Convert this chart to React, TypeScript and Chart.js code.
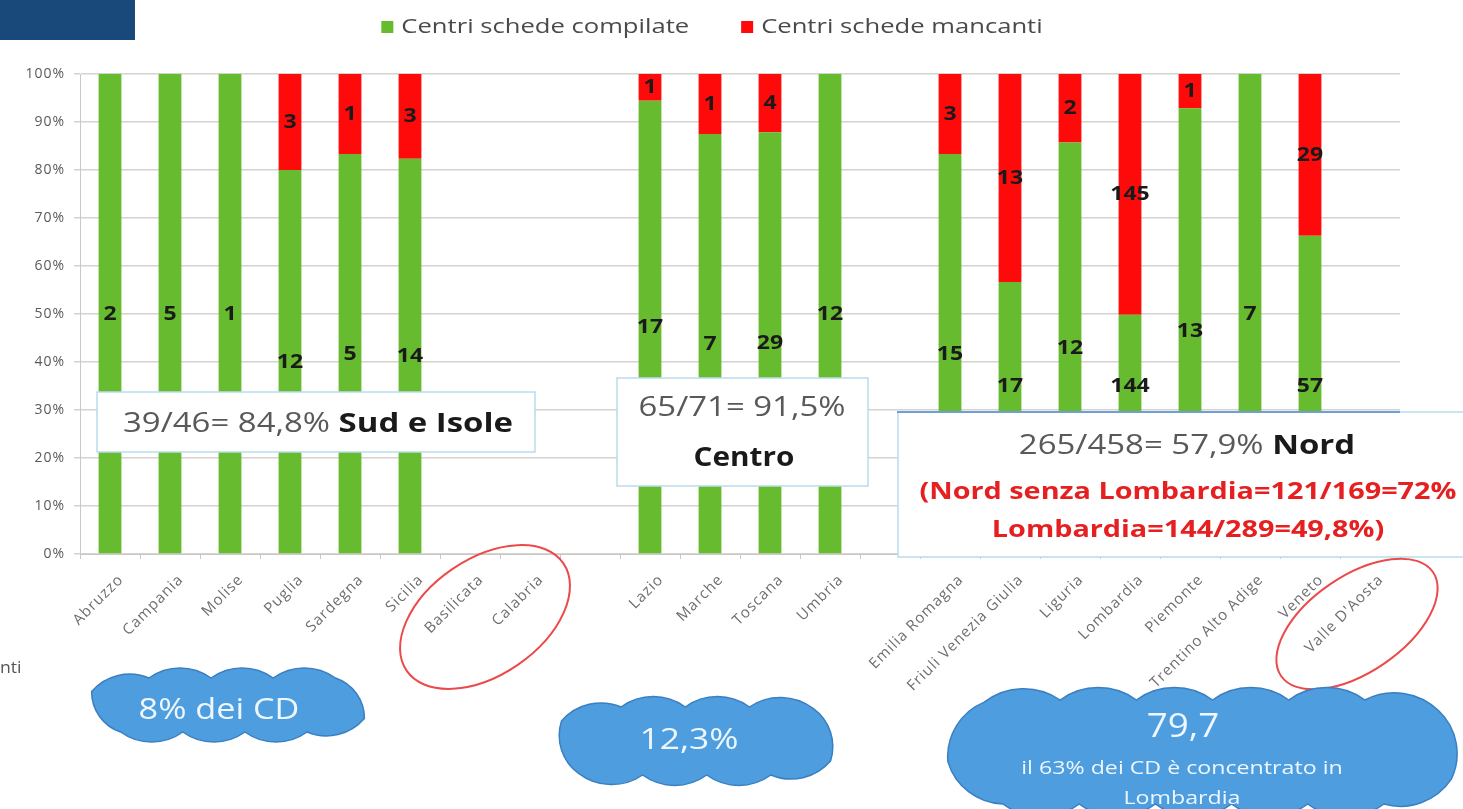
import React, { useEffect, useRef } from "react";
import { Chart, registerables } from "chart.js";

Chart.register(...registerables);

const categories = [
  "Abruzzo", "Campania", "Molise", "Puglia", "Sardegna", "Sicilia", "Basilicata", "Calabria",
  "",
  "Lazio", "Marche", "Toscana", "Umbria",
  "",
  "Emilia Romagna", "Friuli Venezia Giulia", "Liguria", "Lombardia", "Piemonte",
  "Trentino Alto Adige", "Veneto", "Valle D'Aosta",
];
const compilate = [2, 5, 1, 12, 5, 14, 0, 0, 0, 17, 7, 29, 12, 0, 15, 17, 12, 144, 13, 7, 57, 0];
const mancanti = [0, 0, 0, 3, 1, 3, 0, 0, 0, 1, 1, 4, 0, 0, 3, 13, 2, 145, 1, 0, 29, 0];
const seriesNames = ["Centri schede compilate", "Centri schede mancanti"];
const seriesColors = ["#66bb2e", "#ff0a0a"];
const yTickValues = [0, 10, 20, 30, 40, 50, 60, 70, 80, 90, 100];

const totals = compilate.map((g, i) => g + mancanti[i]);
const pctCompilate = compilate.map((g, i) => (totals[i] ? (g / totals[i]) * 100 : 0));
const pctMancanti = mancanti.map((r, i) => (totals[i] ? (r / totals[i]) * 100 : 0));
const counts = [compilate, mancanti];
const pcts = [pctCompilate, pctMancanti];

const FONT = "'Open Sans', 'Liberation Sans', sans-serif";
const SX = 1.22;

function sText(
  ctx: CanvasRenderingContext2D,
  text: string,
  x: number,
  y: number,
  font: string,
  color: string,
  sx: number = SX,
  align: CanvasTextAlign = "center"
) {
  ctx.save();
  ctx.font = font;
  ctx.fillStyle = color;
  ctx.textAlign = align;
  ctx.textBaseline = "middle";
  ctx.translate(x, y);
  ctx.scale(sx, 1);
  ctx.fillText(text, 0, 0);
  ctx.restore();
}

// point on a stadium outline (clockwise on screen), s in [0, P)
function stadiumPoint(W: number, H: number, s: number): [number, number] {
  const top = 2 * W;
  const arc = Math.PI * H;
  if (s < top) return [-W + s, -H];
  s -= top;
  if (s < arc) {
    const a = -Math.PI / 2 + s / H;
    return [W + H * Math.cos(a), H * Math.sin(a)];
  }
  s -= arc;
  if (s < top) return [W - s, H];
  s -= top;
  const a = Math.PI / 2 + s / H;
  return [-W + H * Math.cos(a), H * Math.sin(a)];
}

function cloud(ctx: CanvasRenderingContext2D, cx: number, cy: number, W: number, H: number, n: number) {
  const P = 4 * W + 2 * Math.PI * H;
  const sweep = (72 * Math.PI) / 180;
  const pts: [number, number][] = [];
  const start = W * 0.3;
  for (let i = 0; i < n; i++) {
    const [x, y] = stadiumPoint(W, H, (start + (P * i) / n) % P);
    pts.push([cx + x, cy + y]);
  }
  ctx.beginPath();
  for (let i = 0; i < n; i++) {
    const p1 = pts[i];
    const p2 = pts[(i + 1) % n];
    const dx = p2[0] - p1[0];
    const dy = p2[1] - p1[1];
    const L = Math.hypot(dx, dy);
    const ux = dx / L;
    const uy = dy / L;
    const R = L / 2 / Math.sin(sweep / 2);
    const d = R * Math.cos(sweep / 2);
    const mx = (p1[0] + p2[0]) / 2 - uy * d;
    const my = (p1[1] + p2[1]) / 2 + ux * d;
    const a1 = Math.atan2(p1[1] - my, p1[0] - mx);
    const a2 = Math.atan2(p2[1] - my, p2[0] - mx);
    if (i === 0) ctx.moveTo(p1[0], p1[1]);
    ctx.arc(mx, my, R, a1, a2, false);
  }
  ctx.closePath();
  ctx.fillStyle = "#4d9ddf";
  ctx.fill();
  ctx.strokeStyle = "#3a7fc1";
  ctx.lineWidth = 1.5;
  ctx.stroke();
}

function box(ctx: CanvasRenderingContext2D, x: number, y: number, w: number, h: number) {
  ctx.fillStyle = "#ffffff";
  ctx.fillRect(x, y, w, h);
  ctx.strokeStyle = "#b9dcee";
  ctx.lineWidth = 1.5;
  ctx.strokeRect(x, y, w, h);
}

function mixedLine(ctx: CanvasRenderingContext2D, cx: number, y: number, a: string, b: string, size: number) {
  ctx.font = `${size}px ${FONT}`;
  const wa = ctx.measureText(a).width * SX;
  ctx.font = `bold ${size}px ${FONT}`;
  const wb = ctx.measureText(b).width * SX;
  const x0 = cx - (wa + wb) / 2;
  sText(ctx, a, x0, y, `${size}px ${FONT}`, "#595959", SX, "left");
  sText(ctx, b, x0 + wa, y, `bold ${size}px ${FONT}`, "#1a1a1a", SX, "left");
}

function ellipse(ctx: CanvasRenderingContext2D, cx: number, cy: number, rx: number, ry: number, rot: number) {
  ctx.beginPath();
  ctx.ellipse(cx, cy, rx, ry, rot, 0, Math.PI * 2);
  ctx.strokeStyle = "#ec4a4a";
  ctx.lineWidth = 2;
  ctx.stroke();
}

const spacingPlugin = {
  id: "spacing",
  beforeUpdate(chart: any) {
    (chart.ctx as any).letterSpacing = "1px";
  },
  beforeDraw(chart: any) {
    (chart.ctx as any).letterSpacing = "1px";
  },
};

const overlayPlugin = {
  id: "overlays",
  afterDatasetsDraw(chart: any) {
    const ctx = chart.ctx as CanvasRenderingContext2D;
    const yS = chart.scales.y;
    ctx.save();
    (ctx as any).letterSpacing = "0px";
    for (let d = 0; d < 2; d++) {
      const meta = chart.getDatasetMeta(d);
      meta.data.forEach((bar: any, i: number) => {
        const c = counts[d][i];
        if (!c) return;
        const base = d === 0 ? 0 : pctCompilate[i];
        let mid = base + pcts[d][i] / 2;
        if (d === 0) mid = Math.max(mid, 35);
        sText(ctx, String(c), bar.x, yS.getPixelForValue(mid), `bold 20px ${FONT}`, "#1a1a1a", 1.15);
      });
    }
    ctx.restore();
  },
  afterDraw(chart: any) {
    const ctx = chart.ctx as CanvasRenderingContext2D;
    ctx.save();
    (ctx as any).letterSpacing = "0px";
    // top-left banner
    ctx.fillStyle = "#18497a";
    ctx.fillRect(0, 0, 135, 40);

    // legend
    const LS = 1.28;
    ctx.font = `20px ${FONT}`;
    const legendY = 27;
    const gap = 52;
    const items = seriesNames.map((n) => ({ n, w: ctx.measureText(n).width * LS + 20 }));
    const totalW = items.reduce((s, it) => s + it.w, 0) + gap;
    let lx = 712 - totalW / 2;
    items.forEach((it, k) => {
      ctx.fillStyle = seriesColors[k];
      ctx.fillRect(lx, legendY - 6, 12, 12);
      sText(ctx, it.n, lx + 20, legendY, `20px ${FONT}`, "#4a4a4a", LS, "left");
      lx += it.w + gap;
    });

    // boxes
    box(ctx, 97, 392, 438, 60);
    mixedLine(ctx, 318, 424, "39/46= 84,8% ", "Sud e Isole", 27);

    box(ctx, 617, 378, 251, 108);
    sText(ctx, "65/71= 91,5%", 742, 408, `27px ${FONT}`, "#595959");
    sText(ctx, "Centro", 744, 458, `bold 27px ${FONT}`, "#1a1a1a", 1.1);

    box(ctx, 898, 412, 580, 145);
    ctx.strokeStyle = "#6f9fd4";
    ctx.lineWidth = 2;
    ctx.beginPath();
    ctx.moveTo(897, 412);
    ctx.lineTo(1400, 412);
    ctx.stroke();
    mixedLine(ctx, 1187, 446, "265/458= 57,9% ", "Nord", 27);
    sText(ctx, "(Nord senza Lombardia=121/169=72%", 1188, 492, `bold 24px ${FONT}`, "#e62020", 1.2);
    sText(ctx, "Lombardia=144/289=49,8%)", 1188, 530, `bold 24px ${FONT}`, "#e62020", 1.2);

    // red ellipses
    ellipse(ctx, 485, 617, 95, 58, -0.6);
    ellipse(ctx, 1357, 624, 92, 48, -0.6);

    // clouds
    cloud(ctx, 228, 705, 113, 27, 10);
    cloud(ctx, 696, 741, 107, 34, 10);
    cloud(ctx, 1203, 752, 204, 52, 15);

    const cc = "#eef7ff";
    sText(ctx, "8% dei CD", 219, 711, `29px ${FONT}`, cc, 1.18);
    sText(ctx, "12,3%", 689, 741, `29px ${FONT}`, cc, 1.22);
    sText(ctx, "79,7", 1183, 728, `32px ${FONT}`, cc, 1.15);
    sText(ctx, "il 63% dei CD è concentrato in", 1182, 769, `19px ${FONT}`, cc, 1.22);
    sText(ctx, "Lombardia", 1182, 799, `19px ${FONT}`, cc, 1.22);

    // cut-off side text
    sText(ctx, "nti", 0, 668, `16px ${FONT}`, "#555555", 1.1, "left");
    ctx.restore();
  },
};

export default function App() {
  const ref = useRef<HTMLCanvasElement | null>(null);
  useEffect(() => {
    if (!ref.current) return;
    const chart = new Chart(ref.current, {
      type: "bar",
      data: {
        labels: categories,
        datasets: [
          { label: seriesNames[0], data: pctCompilate, backgroundColor: seriesColors[0], barPercentage: 0.38, categoryPercentage: 1 },
          { label: seriesNames[1], data: pctMancanti, backgroundColor: seriesColors[1], barPercentage: 0.38, categoryPercentage: 1 },
        ],
      },
      options: {
        animation: false,
        responsive: false,
        maintainAspectRatio: false,
        layout: { padding: { top: 74, right: 63, bottom: 0, left: 0 } },
        plugins: { legend: { display: false }, tooltip: { enabled: false } },
        scales: {
          x: {
            stacked: true,
            offset: true,
            grid: { display: true, drawOnChartArea: false, offset: true, tickLength: 5, color: "#c8c8c8" },
            border: { color: "#c8c8c8" },
            ticks: {
              autoSkip: false,
              maxRotation: 45,
              minRotation: 45,
              padding: 12,
              labelOffset: 11,
              color: "#6e6e6e",
              font: { family: FONT, size: 15 },
            },
            afterFit: (axis: any) => {
              axis.height = 255;
            },
          },
          y: {
            stacked: true,
            min: 0,
            max: 100,
            afterBuildTicks: (axis: any) => {
              axis.ticks = yTickValues.map((v) => ({ value: v }));
            },
            ticks: {
              padding: 9,
              color: "#5a5a5a",
              font: { family: FONT, size: 14 },
              callback: (v: any) => `${v}%`,
            },
            grid: { color: "#d6d3cc", lineWidth: 1.5, tickLength: 6 },
            border: { color: "#c8c8c8" },
            afterFit: (axis: any) => {
              axis.width = 80;
            },
          },
        },
      },
      plugins: [spacingPlugin, overlayPlugin],
    });
    return () => chart.destroy();
  }, []);
  return (
    <div style={{ position: "absolute", left: 0, top: 0, width: 1463, height: 809, background: "#fff" }}>
      <canvas ref={ref} width={1463} height={809} />
    </div>
  );
}
